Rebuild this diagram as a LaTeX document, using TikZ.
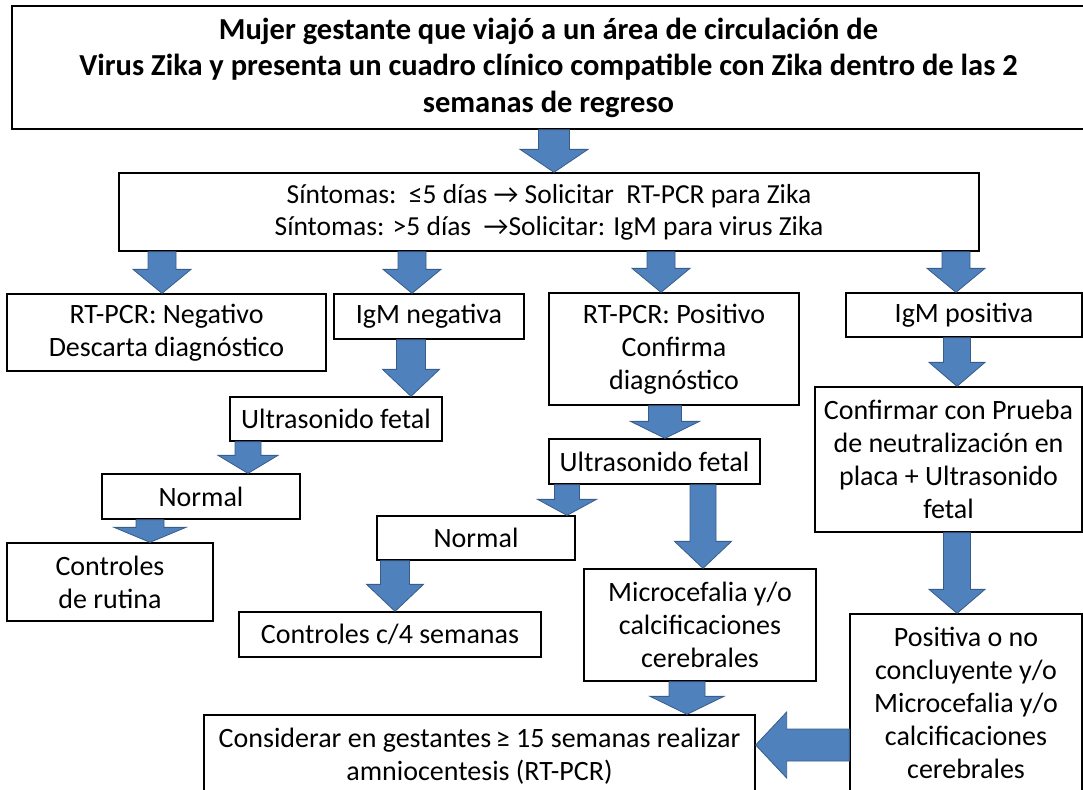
\documentclass[tikz,border=0pt]{standalone}
\usepackage{fontspec}
\setmainfont{Carlito}
\usetikzlibrary{calc}

% flecha hacia abajo: x, origen, destino, medio cuerpo, media punta, largo punta
\newcommand{\flechaabajo}[6]{%
  \filldraw[flecha] let \p1=(#2.south), \p2=(#3.north) in
    (#1pt-#4pt,\y1) -- (#1pt-#4pt,\y2+#6pt) -- (#1pt-#5pt,\y2+#6pt) -- (#1pt,\y2)
    -- (#1pt+#5pt,\y2+#6pt) -- (#1pt+#4pt,\y2+#6pt) -- (#1pt+#4pt,\y1) -- cycle;}
% flecha hacia la izquierda: y, origen, destino, medio cuerpo, media punta, largo punta
\newcommand{\flechaizq}[6]{%
  \filldraw[flecha] let \p1=(#2.west), \p2=(#3.east), \p3=(0,#1) in
    (\x1,\y3+#4pt) -- (\x2+#6pt,\y3+#4pt) -- (\x2+#6pt,\y3+#5pt) -- (\x2,\y3)
    -- (\x2+#6pt,\y3-#5pt) -- (\x2+#6pt,\y3-#4pt) -- (\x1,\y3-#4pt) -- cycle;}

\begin{document}
\begin{tikzpicture}[x=1pt,y=-1pt,
    caja/.style={draw, line width=1.3pt, fill=white, inner sep=0pt, align=center,
      font=\fontsize{28}{33}\selectfont},
    flecha/.style={fill={rgb,255:red,79;green,129;blue,189},
      draw={rgb,255:red,56;green,93;blue,138}, line width=0.8pt}]
  \useasboundingbox (0,0) rectangle (1083,789);
  \clip (0,0) rectangle (1083,789);
  % Cajas
  \node[caja, minimum width=1073, minimum height=123,
    font=\bfseries\fontsize{30.5}{36.5}\selectfont] (titulo) at (548.5,67.5)
    {Mujer gestante que viajó a un área de circulación de\\
     Virus Zika y presenta un cuadro clínico compatible con Zika dentro de las 2\\
     semanas de regreso};
  \node[caja, minimum width=860, minimum height=78,
    font=\fontsize{27.5}{32}\selectfont] (sintomas) at (549,212)
    {Síntomas:\ \ ≤5 días → Solicitar\ \ RT-PCR para Zika\\
     Síntomas: >5 días\ \ →Solicitar: IgM para virus Zika};
  \node[caja, minimum width=319, minimum height=77] (pcrneg) at (166.5,332.5)
    {RT-PCR: Negativo\\ Descarta diagnóstico};
  \node[caja, minimum width=190, minimum height=45] (igmneg) at (429,316.5) {IgM negativa};
  \node[caja, minimum width=250, minimum height=112] (pcrpos) at (674,349)
    {RT-PCR: Positivo\\ Confirma\\ diagnóstico};
  \node[caja, minimum width=236, minimum height=44] (igmpos) at (964,315) {IgM positiva};
  \node[caja, minimum width=212, minimum height=44] (ultraA) at (336,419) {Ultrasonido fetal};
  \node[caja, minimum width=198, minimum height=45] (normalA) at (201,496.5) {Normal};
  \node[caja, minimum width=206, minimum height=78] (rutina) at (110,582)
    {Controles\\ de rutina};
  \node[caja, minimum width=211, minimum height=45] (ultraB) at (654.5,461.5) {Ultrasonido fetal};
  \node[caja, minimum width=198, minimum height=44] (normalB) at (476,538) {Normal};
  \node[caja, minimum width=302, minimum height=45] (cuatro) at (390,634.5)
    {Controles c/4 semanas};
  \node[caja, minimum width=232, minimum height=112] (micro) at (700,625)
    {Microcefalia y/o\\ calcificaciones\\ cerebrales};
  \node[caja, minimum width=267, minimum height=145] (confirmar) at (948.5,459.5)
    {Confirmar con Prueba\\ de neutralización en\\ placa + Ultrasonido\\ fetal};
  \node[caja, minimum width=551, minimum height=83] (amnio) at (479.5,756.5)
    {Considerar en gestantes\,≥ 15 semanas realizar\\ amniocentesis (RT-PCR)};
  \node[caja, minimum width=232, minimum height=178] (positiva) at (966,703)
    {Positiva o no\\ concluyente y/o\\ Microcefalia y/o\\ calcificaciones\\ cerebrales};
  % Flechas
  \flechaabajo{554}{titulo}{sintomas}{15.5}{34}{23}
  \flechaabajo{162}{sintomas}{pcrneg}{14}{29}{24}
  \flechaabajo{412}{sintomas}{igmneg}{14}{29}{24}
  \flechaabajo{661}{sintomas}{pcrpos}{14}{29}{24}
  \flechaabajo{956}{sintomas}{igmpos}{14}{29}{24}
  \flechaabajo{411}{igmneg}{ultraA}{14.5}{28.5}{27}
  \flechaabajo{248}{ultraA}{normalA}{13}{30}{18}
  \flechaabajo{150}{normalA}{rutina}{14}{36}{15}
  \flechaabajo{665}{pcrpos}{ultraB}{16.5}{34.5}{17}
  \flechaabajo{567}{ultraB}{normalB}{12.5}{29.5}{16}
  \flechaabajo{703}{ultraB}{micro}{13}{28.5}{27}
  \flechaabajo{395}{normalB}{cuatro}{14.5}{28.5}{27}
  \flechaabajo{957}{igmpos}{confirmar}{13.5}{28}{24}
  \flechaabajo{957}{confirmar}{positiva}{13.5}{28}{24}
  \flechaabajo{687}{micro}{amnio}{18}{37}{18}
  \flechaizq{745}{positiva}{amnio}{16}{33}{31}
\end{tikzpicture}
\end{document}
